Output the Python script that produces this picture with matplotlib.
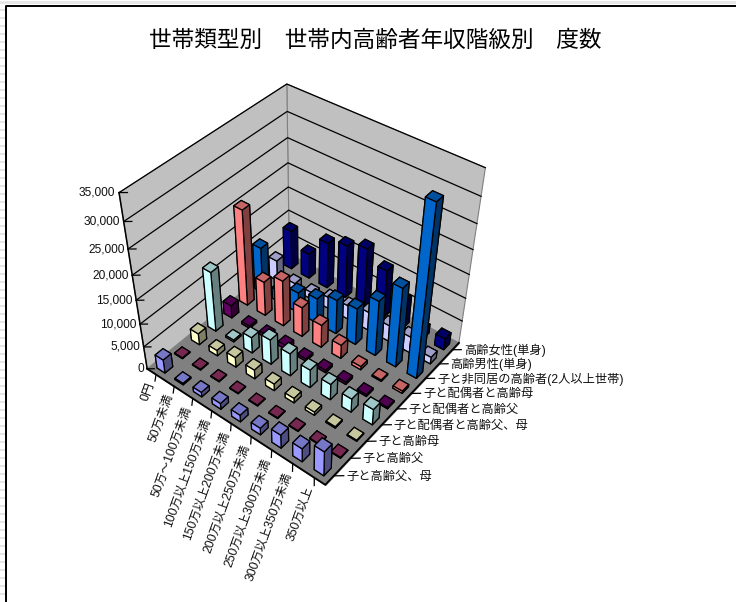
import numpy as np
import matplotlib
matplotlib.use('Agg')
import matplotlib.pyplot as plt
from matplotlib.lines import Line2D
from mpl_toolkits.mplot3d import proj3d
from mpl_toolkits.mplot3d.art3d import Poly3DCollection

plt.rcParams['font.family'] = ['Liberation Sans', 'Noto Sans CJK JP']

TITLE = '世帯類型別　世帯内高齢者年収階級別　度数'

incomes = ['0円', '50万未満', '50万～100万未満', '100万以上150万未満', '150万以上200万未満',
           '200万以上250万未満', '250万以上300万未満', '300万以上350万未満', '350万以上']
households = ['子と高齢父、母', '子と高齢父', '子と高齢母', '子と配偶者と高齢父、母', '子と配偶者と高齢父',
              '子と配偶者と高齢母', '子と非同居の高齢者(2人以上世帯)', '高齢男性(単身)', '高齢女性(単身)']
z_ticks = [0, 5000, 10000, 15000, 20000, 25000, 30000, 35000]

# one list per household type, income classes left to right
father_mother = [3000, 300, 1000, 1300, 1500, 1500, 3000, 3000, 5500]
father = [150, 150, 150, 150, 150, 150, 150, 150, 150]
mother = [2500, 1200, 2200, 2000, 1500, 1000, 700, 300, 200]
spouse_both = [13000, 400, 3500, 5500, 5000, 4000, 3500, 3000, 3500]
spouse_father = [2800, 500, 800, 900, 500, 500, 500, 400, 300]
spouse_mother = [20500, 7500, 10000, 6500, 5000, 3000, 700, 300, 500]
separate = [10000, 2500, 4500, 5500, 7500, 8000, 12000, 17000, 35000]
single_male = [4500, 1500, 1500, 2500, 3000, 4000, 3500, 3500, 1500]
single_female = [8500, 5500, 10000, 11500, 13000, 10500, 6000, 2000, 2500]

series = [father_mother, father, mother, spouse_both, spouse_father,
          spouse_mother, separate, single_male, single_female]
colors = ['#9999FF', '#993366', '#FFFFCC', '#CCFFFF', '#660066',
          '#FF8080', '#0066CC', '#CCCCFF', '#000080']


def shade(color, k):
    r = matplotlib.colors.to_rgb(color)
    return (r[0] * k, r[1] * k, r[2] * k, 1)


fig = plt.figure(figsize=(7.36, 6.02), dpi=100, facecolor='white')

# sheet gridlines peeking out behind the chart area
for py in range(10, 602, 8):
    fig.add_artist(Line2D([0, 6 / 736], [1 - py / 602] * 2, color='#e6e6e6', lw=1.4))
fig.add_artist(Line2D([0, 1], [1 - 1.5 / 602] * 2, color='#e6e6e6', lw=2))
fig.add_artist(Line2D([6.5 / 736, 6.5 / 736, 1], [0, 1 - 5.5 / 602, 1 - 5.5 / 602], color='black', lw=1.4))

ax = fig.add_axes([-71 / 736, 18 / 602, 1, 1], projection='3d')
ax.patch.set_visible(False)
ax.set_proj_type('persp', focal_length=0.3)
ax.view_init(elev=42, azim=-51.5)
ax.set_box_aspect((1, 1, 0.98), zoom=0.665)
ax.set_xlim(0, 9, view_margin=0)
ax.set_ylim(0, 9, view_margin=0)
ax.set_zlim(0, 35000, view_margin=0)
ax.set_axis_off()
ax.computed_zorder = False
ax.apply_aspect()

n = 9
top = z_ticks[-1]
ax.add_collection3d(Poly3DCollection([[(0, 0, 0), (n, 0, 0), (n, n, 0), (0, n, 0)]],
                                     facecolor='#808080', edgecolor='#808080', zorder=1))
ax.add_collection3d(Poly3DCollection([[(0, 0, 0), (0, n, 0), (0, n, top), (0, 0, top)],
                                      [(0, n, 0), (n, n, 0), (n, n, top), (0, n, top)]],
                                     facecolor='#C0C0C0', edgecolor='#808080', linewidths=0.8, zorder=1))


def label_2d(x, y, z, text, **kwargs):
    # 3D text ignores rotation, so put it on the axes at its projected place
    xp, yp, _ = proj3d.proj_transform(x, y, z, ax.get_proj())
    ax.text2D(xp, yp, text, transform=ax.transData, color='#111111', zorder=50, **kwargs)


# gridlines on both walls, then ticks and labels
for z in z_ticks[1:]:
    ax.plot([0, 0, n], [0, n, n], [z, z, z], color='black', lw=0.9, zorder=2)
for z in z_ticks:
    ax.plot([0, 0.22], [0, 0.18], [z, z], color='black', lw=0.9, zorder=3)
    label_2d(-0.1, -0.08, z, f'{z:,}', ha='right', va='center', fontsize=8.6)
ax.plot([0, 0], [0, 0], [0, top], color='black', lw=1.1, zorder=3)
ax.plot([0, n, n], [0, 0, n], [0, 0, 0], color='black', lw=1.3, zorder=3)

for i, label in enumerate(incomes):
    ax.plot([i + 0.5, i + 0.71], [0, -0.27], [0, 0], color='black', lw=0.9, zorder=3)
    label_2d(i + 0.65, -0.42, 0, label, rotation=70, rotation_mode='anchor', ha='right', va='center', fontsize=8.8)
for j, label in enumerate(households):
    ax.plot([n, n + 0.28], [j + 0.5, j + 0.73], [0, 0], color='black', lw=0.9, zorder=3)
    label_2d(n + 0.38, j + 0.76, 0, label, ha='left', va='center', fontsize=8.8)

# bars back to front so the tall ones overlap properly
w = 0.44
for j in range(n - 1, -1, -1):
    for i in range(n):
        c = colors[j]
        face_colors = [shade(c, 0.5), shade(c, 0.78), shade(c, 1.0), shade(c, 0.5), shade(c, 0.5), shade(c, 0.5)]
        ax.bar3d(i + 0.5 - w / 2, j + 0.5 - w / 2, 0, w, w, series[j][i], color=face_colors, shade=False,
                 edgecolor='black', linewidth=0.9, zorder=10 + (i - j + 8) * 0.1)

fig.text(375 / 736, 1 - 40 / 602, TITLE, ha='center', va='center', fontsize=16.3, color='black')

fig.savefig('out.png', dpi=100)
